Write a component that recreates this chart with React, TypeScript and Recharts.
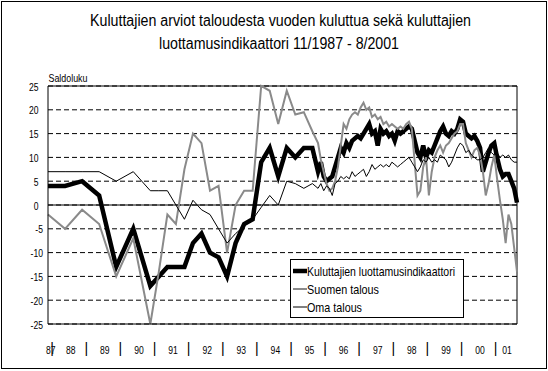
import { LineChart, Line, XAxis, YAxis, CartesianGrid, ReferenceLine, Legend } from "recharts";

// survey dates: twice a year 1987-1990, quarterly 1991-1995, monthly from 10/1995
const sparseDates = [
  "1987-11", "1988-05", "1988-11", "1989-05", "1989-11", "1990-05", "1990-11",
  "1991-02", "1991-05", "1991-08", "1991-11", "1992-02", "1992-05", "1992-08", "1992-11",
  "1993-02", "1993-05", "1993-08", "1993-11", "1994-02", "1994-05", "1994-08", "1994-11",
  "1995-02", "1995-05", "1995-08",
];

function monthsBetween(from: string, to: string) {
  const out: string[] = [];
  let [y, m] = from.split("-").map(Number);
  const [y2, m2] = to.split("-").map(Number);
  while (y < y2 || (y === y2 && m <= m2)) {
    out.push(`${y}-${String(m).padStart(2, "0")}`);
    m++;
    if (m > 12) { m = 1; y++; }
  }
  return out;
}

const dates = [...sparseDates, ...monthsBetween("1995-10", "2001-08")];

const luottamus = [
  4, 4, 5, 2, -13, -5, -17,
  -15, -13, -13, -13, -8, -6, -10, -11,
  -15, -8, -4, -3, 9, 12, 6, 12,
  10, 12, 12,
  7, 9, 6, 5, 5.5, 6, 8, 10, 12, 11,
  13, 12, 13.5, 14, 14.5, 14, 15, 16, 17, 15,
  15.5, 12.5, 16, 15, 15.5, 14.5, 15, 13.5, 15.5, 15,
  15.5, 16, 16.5, 16, 13.5, 11, 10, 12.5, 10, 11.5,
  11, 12.5, 14, 15.5, 16.5, 15, 14.5, 15.5, 15, 16,
  18, 17.5, 15, 14.5, 14, 14.5, 13.5, 12, 7, 9,
  11, 12.5, 13, 10, 7.5, 6, 6.5, 6.5, 5, 3.5,
  0.5,
];

const suomenTalous = [
  -2, -5, -1, -4, -15, -7, -25,
  -14, -2, -4, 7.5, 15, 13, 3, 4,
  -10, 0, 3, 3, 25, 24, 17, 24,
  19, 19.5, 15.5,
  13, 9.5, 7, 4.5, 3, 3.5, 5, 8, 12.5, 17,
  16, 18, 19, 19.5, 19, 20.5, 21.5, 20, 20.5, 18.5,
  19, 18, 18.5, 17, 17.5, 16.5, 17, 16.5, 16, 16.5,
  16, 17, 17.5, 16, 9, 2, 3, 8, 10, 2,
  7, 10, 11.5, 12.5, 11, 12.5, 13, 14, 15, 15.5,
  17, 17, 13, 11.5, 10, 11.5, 12, 10.5, 7, 2,
  4.5, 8, 10.5, 5.5, 1, -3, -8, -2, -4, -9,
  -14,
];

const omaTalous = [
  7, 7, 7, 7, 5, 7, 3,
  3, 3, 0, -3, 1, -1, -2, -5,
  -8, -6, -4.5, -3, -0.5, 2, 0, 5,
  4.5, 3.5, 4.5,
  3.5, 4.5, 3, 4, 3.5, 2, 4.5, 5, 6, 5.5,
  6, 5.5, 7, 6, 6.5, 7, 7.5, 6, 7, 8.5,
  7.5, 8, 8.5, 8, 8.5, 8, 9, 8.5, 8, 8.5,
  9, 9.5, 10, 9, 8, 7, 8, 9.5, 9, 10,
  9, 9.5, 9, 10.5, 10, 9.5, 8, 9, 10.5, 12,
  13, 12.5, 11, 11.5, 10.5, 10, 9.5, 9.5, 10, 11,
  12, 11, 10.5, 11, 10, 10.5, 10, 10.5, 9.5, 9,
  9,
];

const yearLabels = ["87", "88", "89", "90", "91", "92", "93", "94", "95", "96", "97", "98", "99", "00", "01"];
const yTicks = [-25, -20, -15, -10, -5, 0, 5, 10, 15, 20, 25];

const seriesNames = ["Kuluttajien luottamusindikaattori", "Suomen talous", "Oma talous"];
const titleLines = [
  "Kuluttajien arviot taloudesta vuoden kuluttua sekä kuluttajien",
  "luottamusindikaattori 11/1987 - 8/2001",
];

const seriesStyle = [
  { key: "luottamus", color: "#000000", width: 4.5, textW: 148 },
  { key: "suomi", color: "#8a8a8a", width: 2, textW: 72 },
  { key: "oma", color: "#000000", width: 1, textW: 55 },
];

const toYear = (d: string) => {
  const [y, m] = d.split("-").map(Number);
  return y + (m - 1) / 12;
};
const tStart = toYear(dates[0]);
const tEnd = toYear(dates[dates.length - 1]);

const data = dates.map((d, i) => ({
  t: toYear(d),
  luottamus: luottamus[i],
  suomi: suomenTalous[i],
  oma: omaTalous[i],
}));

// year names centred in each year, "|" at year boundaries
const tickText = new Map<number, string>();
yearLabels.forEach((label, i) => {
  const y0 = 1987 + i;
  const a = Math.max(y0, tStart);
  const b = Math.min(y0 + 1, tEnd);
  tickText.set((a + b) / 2, label);
  if (y0 > 1987) tickText.set(y0, "|");
});
const xTicks = [...tickText.keys()].sort((a, b) => a - b);

const W = 548;
const H = 371;
const FONT = "'Liberation Sans', Arial, sans-serif";

const XTick = (props: any) => {
  const { x, y, payload } = props;
  const s = tickText.get(payload.value) ?? "";
  if (s === "|") {
    return (
      <text x={x - 1.5} y={y + 21} textAnchor="middle" fontSize={14} fontFamily={FONT} fill="#000">
        |
      </text>
    );
  }
  return (
    <text
      transform={`translate(${x},${y + 22}) scale(0.78,1)`}
      textAnchor="middle"
      fontSize={11}
      fontFamily={FONT}
      fill="#000"
    >
      {s}
    </text>
  );
};

const YTick = (props: any) => {
  const { y, payload } = props;
  const xe = payload.value < 0 ? 43 : 38.5;
  return (
    <text
      transform={`translate(${xe},${y + 4.5}) scale(0.78,1)`}
      textAnchor="end"
      fontSize={11}
      fontFamily={FONT}
      fill="#000"
    >
      {payload.value}
    </text>
  );
};

const LegendBox = () => (
  <svg width={174} height={59} style={{ display: "block" }}>
    <rect x={0.5} y={0.5} width={173} height={58} fill="#fff" stroke="#000" />
    {seriesStyle.map((s, i) => (
      <g key={s.key}>
        <line x1={3} x2={17} y1={12 + i * 18} y2={12 + i * 18} stroke={s.color} strokeWidth={s.width} />
        <text
          x={17}
          y={16.5 + i * 18}
          fontSize={13}
          fontFamily={FONT}
          textLength={s.textW}
          lengthAdjust="spacingAndGlyphs"
          fill="#000"
        >
          {seriesNames[i]}
        </text>
      </g>
    ))}
  </svg>
);

export default function App() {
  return (
    <div style={{ position: "absolute", left: 0, top: 0, width: W, height: H, background: "#fff" }}>
      <svg width={W} height={H} style={{ position: "absolute", left: 0, top: 0 }}>
        <rect x={1.5} y={1.5} width={545} height={367} fill="none" stroke="#000" />
        <text
          x={280.5}
          y={26}
          textAnchor="middle"
          fontSize={16}
          fontFamily={FONT}
          textLength={381}
          lengthAdjust="spacingAndGlyphs"
        >
          {titleLines[0]}
        </text>
        <text
          x={279}
          y={49}
          textAnchor="middle"
          fontSize={16}
          fontFamily={FONT}
          textLength={240}
          lengthAdjust="spacingAndGlyphs"
        >
          {titleLines[1]}
        </text>
        <text x={48.5} y={82} fontSize={11} fontFamily={FONT} textLength={39} lengthAdjust="spacingAndGlyphs">
          Saldoluku
        </text>
      </svg>
      <div style={{ position: "absolute", left: 0, top: 0 }}>
        <LineChart width={W} height={H} data={data} margin={{ top: 86, right: 31, bottom: 0, left: 0 }}>
          <CartesianGrid vertical={false} stroke="#000" strokeDasharray="5 3" />
          <XAxis
            dataKey="t"
            type="number"
            domain={[tStart, tEnd]}
            ticks={xTicks}
            interval={0}
            height={47}
            tickLine={false}
            axisLine={{ stroke: "#000" }}
            tick={<XTick />}
          />
          <YAxis
            type="number"
            domain={[-25, 25]}
            ticks={yTicks}
            interval={0}
            width={48}
            tickLine={false}
            axisLine={{ stroke: "#000" }}
            tick={<YTick />}
          />
          <ReferenceLine y={0} stroke="#000" />
          <ReferenceLine y={25} stroke="#000" />
          <ReferenceLine x={tEnd} stroke="#000" />
          {seriesStyle.map((s, i) => (
            <Line
              key={s.key}
              type="linear"
              dataKey={s.key}
              name={seriesNames[i]}
              stroke={s.color}
              strokeWidth={s.width}
              dot={false}
              isAnimationActive={false}
            />
          ))}
          <Legend
            layout="vertical"
            align="center"
            verticalAlign="middle"
            wrapperStyle={{ left: 290, top: 259, width: 174, height: 59 }}
            content={() => <LegendBox />}
          />
        </LineChart>
      </div>
    </div>
  );
}
